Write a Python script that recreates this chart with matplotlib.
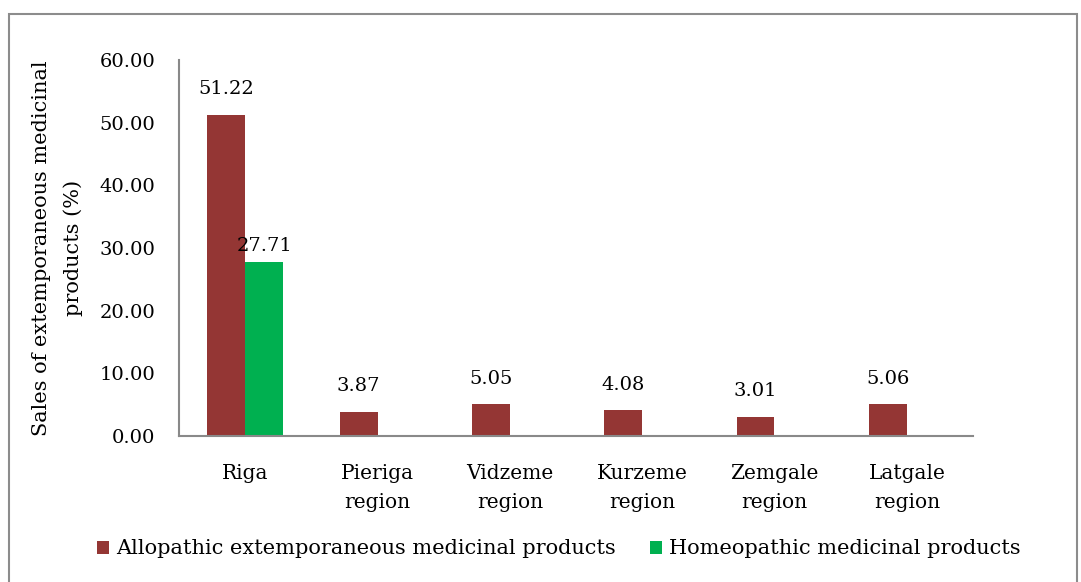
import matplotlib.pyplot as plt
import numpy as np

plt.rcParams['font.family'] = ['DejaVu Serif']

regions = ['Riga', 'Pieriga\nregion', 'Vidzeme\nregion', 'Kurzeme\nregion', 'Zemgale\nregion', 'Latgale\nregion']
allopathic = [51.22, 3.87, 5.05, 4.08, 3.01, 5.06]
homeopathic = [27.71, 0, 0, 0, 0, 0]
yticks = [0, 10, 20, 30, 40, 50, 60]

fig = plt.figure(figsize=(10.81, 5.82), dpi=100)
ax = fig.add_axes([179 / 1081, 1 - 436 / 582, (973 - 179) / 1081, (436 - 60) / 582])

x = np.arange(len(regions))
w = 0.287
b1 = ax.bar(x - w / 2, allopathic, w, color='#943634', label='Allopathic extemporaneous medicinal products')
b2 = ax.bar(x + w / 2, homeopathic, w, color='#00B050', label='Homeopathic medicinal products')

for rect, v in zip(b1, allopathic):
    ax.annotate(f'{v:.2f}', (rect.get_x() + rect.get_width() / 2, v), xytext=(0, 12),
                textcoords='offset points', ha='center', va='bottom', fontsize=14)
for rect, v in zip(b2, homeopathic):
    if v > 0:
        ax.annotate(f'{v:.2f}', (rect.get_x() + rect.get_width() / 2, v), xytext=(0, 5),
                    textcoords='offset points', ha='center', va='bottom', fontsize=14)

ax.set_xlim(-0.5, len(regions) - 0.5)
ax.set_ylim(0, 60)
ax.set_yticks(yticks)
ax.set_yticklabels([f'{t:.2f}' for t in yticks], fontsize=14)
ax.set_xticks(x)
ax.set_xticklabels(regions, fontsize=14.5, linespacing=1.65)
ax.tick_params(length=0)
ax.tick_params(axis='y', pad=17)
ax.tick_params(axis='x', pad=20)
for s in ['top', 'right']:
    ax.spines[s].set_visible(False)
for s in ['left', 'bottom']:
    ax.spines[s].set_color('#898989')
    ax.spines[s].set_linewidth(1.5)

ax.set_ylabel('Sales of extemporaneous medicinal\nproducts (%)', fontsize=15, labelpad=12,
              linespacing=1.75)

fig.legend(loc='center', bbox_to_anchor=(0.517, 1 - 549 / 582), ncol=2, frameon=False,
           fontsize=15, handlelength=0.6, handleheight=0.6, handletextpad=0.35, columnspacing=1.6)

border = plt.Rectangle((9 / 1081, -0.01), 1068 / 1081, 1 - 14 / 582 + 0.01, transform=fig.transFigure,
                       fill=False, edgecolor='#8c8c8c', linewidth=1.5)
fig.patches.append(border)

fig.savefig('out.png', dpi=100)
